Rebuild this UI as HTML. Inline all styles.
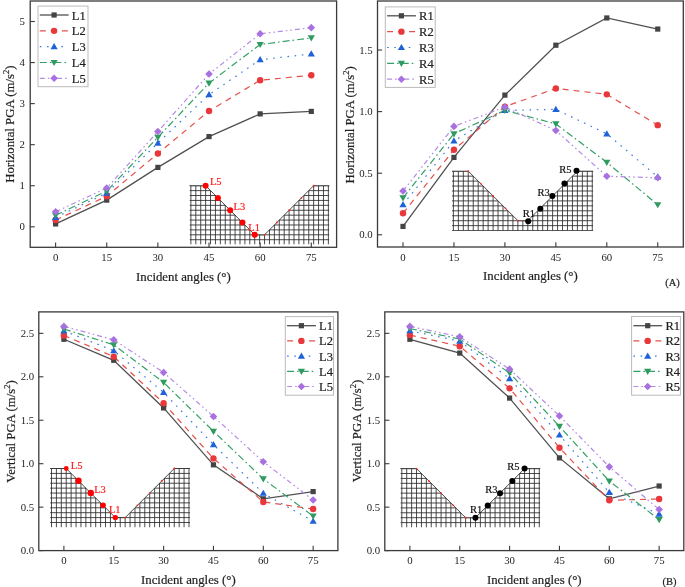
<!DOCTYPE html>
<html><head><meta charset="utf-8"><style>
html,body{margin:0;padding:0;background:#fff;}
svg{display:block;font-family:"Liberation Serif", serif;will-change:transform;}
</style></head><body>
<svg width="685" height="587" viewBox="0 0 685 587">

<rect x="30.20" y="1.00" width="306.40" height="246.30" fill="none" stroke="#3a3a3a" stroke-width="1.3"/>
<path d="M55.60,247.30V242.50" stroke="#3a3a3a" stroke-width="1.1"/>
<text x="55.60" y="260.90" font-size="10.8" text-anchor="middle" fill="#1e1e1e" stroke="#1e1e1e" stroke-width="0">0</text>
<path d="M106.74,247.30V242.50" stroke="#3a3a3a" stroke-width="1.1"/>
<text x="106.74" y="260.90" font-size="10.8" text-anchor="middle" fill="#1e1e1e" stroke="#1e1e1e" stroke-width="0">15</text>
<path d="M157.88,247.30V242.50" stroke="#3a3a3a" stroke-width="1.1"/>
<text x="157.88" y="260.90" font-size="10.8" text-anchor="middle" fill="#1e1e1e" stroke="#1e1e1e" stroke-width="0">30</text>
<path d="M209.02,247.30V242.50" stroke="#3a3a3a" stroke-width="1.1"/>
<text x="209.02" y="260.90" font-size="10.8" text-anchor="middle" fill="#1e1e1e" stroke="#1e1e1e" stroke-width="0">45</text>
<path d="M260.16,247.30V242.50" stroke="#3a3a3a" stroke-width="1.1"/>
<text x="260.16" y="260.90" font-size="10.8" text-anchor="middle" fill="#1e1e1e" stroke="#1e1e1e" stroke-width="0">60</text>
<path d="M311.30,247.30V242.50" stroke="#3a3a3a" stroke-width="1.1"/>
<text x="311.30" y="260.90" font-size="10.8" text-anchor="middle" fill="#1e1e1e" stroke="#1e1e1e" stroke-width="0">75</text>
<path d="M30.20,226.80H34.80" stroke="#3a3a3a" stroke-width="1.1"/>
<text x="24.90" y="230.30" font-size="10.8" text-anchor="end" fill="#1e1e1e" stroke="#1e1e1e" stroke-width="0">0</text>
<path d="M30.20,185.74H34.80" stroke="#3a3a3a" stroke-width="1.1"/>
<text x="24.90" y="189.24" font-size="10.8" text-anchor="end" fill="#1e1e1e" stroke="#1e1e1e" stroke-width="0">1</text>
<path d="M30.20,144.68H34.80" stroke="#3a3a3a" stroke-width="1.1"/>
<text x="24.90" y="148.18" font-size="10.8" text-anchor="end" fill="#1e1e1e" stroke="#1e1e1e" stroke-width="0">2</text>
<path d="M30.20,103.62H34.80" stroke="#3a3a3a" stroke-width="1.1"/>
<text x="24.90" y="107.12" font-size="10.8" text-anchor="end" fill="#1e1e1e" stroke="#1e1e1e" stroke-width="0">3</text>
<path d="M30.20,62.56H34.80" stroke="#3a3a3a" stroke-width="1.1"/>
<text x="24.90" y="66.06" font-size="10.8" text-anchor="end" fill="#1e1e1e" stroke="#1e1e1e" stroke-width="0">4</text>
<path d="M30.20,21.50H34.80" stroke="#3a3a3a" stroke-width="1.1"/>
<text x="24.90" y="25.00" font-size="10.8" text-anchor="end" fill="#1e1e1e" stroke="#1e1e1e" stroke-width="0">5</text>
<text x="183.40" y="280.70" font-size="12.8" text-anchor="middle" fill="#1e1e1e" stroke="#1e1e1e" stroke-width="0.2">Incident angles (°)</text>
<text transform="translate(14.00,124.20) rotate(-90)" font-size="12.8" text-anchor="middle" fill="#1e1e1e" stroke="#1e1e1e" stroke-width="0.2">Horizontal PGA (m/s<tspan font-size="8.5" dy="-5">2</tspan><tspan dy="5">)</tspan></text>
<clipPath id="clip190_185"><polygon points="189.50,185.70 205.63,185.70 254.73,234.80 264.55,234.80 313.65,185.70 329.38,185.70 329.38,244.62 189.50,244.62"/></clipPath>
<g clip-path="url(#clip190_185)"><path d="M190.90,185.70V244.62M195.81,185.70V244.62M200.72,185.70V244.62M205.63,185.70V244.62M210.54,185.70V244.62M215.45,185.70V244.62M220.36,185.70V244.62M225.27,185.70V244.62M230.18,185.70V244.62M235.09,185.70V244.62M240.00,185.70V244.62M244.91,185.70V244.62M249.82,185.70V244.62M254.73,185.70V244.62M259.64,185.70V244.62M264.55,185.70V244.62M269.46,185.70V244.62M274.37,185.70V244.62M279.28,185.70V244.62M284.19,185.70V244.62M289.10,185.70V244.62M294.01,185.70V244.62M298.92,185.70V244.62M303.83,185.70V244.62M308.74,185.70V244.62M313.65,185.70V244.62M318.56,185.70V244.62M323.47,185.70V244.62M328.38,185.70V244.62M189.50,185.70H329.38M189.50,190.61H329.38M189.50,195.52H329.38M189.50,200.43H329.38M189.50,205.34H329.38M189.50,210.25H329.38M189.50,215.16H329.38M189.50,220.07H329.38M189.50,224.98H329.38M189.50,229.89H329.38M189.50,234.80H329.38M189.50,239.71H329.38" stroke="#2a2a2a" stroke-width="0.85" fill="none"/></g>
<path d="M189.50,185.70H205.63L254.73,234.80H264.55L313.65,185.70H329.38" stroke="#2a2a2a" stroke-width="0.85" fill="none"/>
<circle cx="264.55" cy="234.80" r="0.9" fill="#ff2020"/>
<circle cx="276.82" cy="222.52" r="0.9" fill="#ff2020"/>
<circle cx="289.10" cy="210.25" r="0.9" fill="#ff2020"/>
<circle cx="301.38" cy="197.97" r="0.9" fill="#ff2020"/>
<circle cx="313.65" cy="185.70" r="0.9" fill="#ff2020"/>
<circle cx="205.63" cy="185.70" r="3.00" fill="#ff0000"/>
<circle cx="217.91" cy="197.97" r="3.00" fill="#ff0000"/>
<circle cx="230.18" cy="210.25" r="3.00" fill="#ff0000"/>
<circle cx="242.46" cy="222.52" r="3.00" fill="#ff0000"/>
<circle cx="254.73" cy="234.80" r="3.00" fill="#ff0000"/>
<path d="M55.60,223.93L106.74,200.11L157.88,167.39L209.02,136.59L260.16,113.89L311.30,111.42" fill="none" stroke="#505050" stroke-width="1.3"/>
<path d="M55.60,220.03L106.74,196.21L157.88,153.47L209.02,111.01L260.16,80.22L311.30,75.29" fill="none" stroke="#e4504a" stroke-width="1.2" stroke-dasharray="6,5"/>
<path d="M55.60,217.36L106.74,193.13L157.88,143.04L209.02,94.59L260.16,59.69L311.30,53.94" fill="none" stroke="#3a7ae0" stroke-width="1.2" stroke-dasharray="1.6,5.6"/>
<path d="M55.60,215.30L106.74,191.08L157.88,137.29L209.02,83.09L260.16,44.49L311.30,37.92" fill="none" stroke="#34a067" stroke-width="1.2" stroke-dasharray="7,3,1.6,3"/>
<path d="M55.60,211.81L106.74,188.00L157.88,131.54L209.02,74.06L260.16,33.82L311.30,27.66" fill="none" stroke="#b48ae6" stroke-width="1.2" stroke-dasharray="5,3,1.6,3,1.6,3"/>
<rect x="53.00" y="221.33" width="5.20" height="5.20" fill="#444444"/>
<rect x="104.14" y="197.51" width="5.20" height="5.20" fill="#444444"/>
<rect x="155.28" y="164.79" width="5.20" height="5.20" fill="#444444"/>
<rect x="206.42" y="133.99" width="5.20" height="5.20" fill="#444444"/>
<rect x="257.56" y="111.29" width="5.20" height="5.20" fill="#444444"/>
<rect x="308.70" y="108.82" width="5.20" height="5.20" fill="#444444"/>
<circle cx="55.60" cy="220.03" r="3.20" fill="#e8383b"/>
<circle cx="106.74" cy="196.21" r="3.20" fill="#e8383b"/>
<circle cx="157.88" cy="153.47" r="3.20" fill="#e8383b"/>
<circle cx="209.02" cy="111.01" r="3.20" fill="#e8383b"/>
<circle cx="260.16" cy="80.22" r="3.20" fill="#e8383b"/>
<circle cx="311.30" cy="75.29" r="3.20" fill="#e8383b"/>
<path d="M55.60,213.76L59.20,219.96L52.00,219.96Z" fill="#1f62d8"/>
<path d="M106.74,189.53L110.34,195.73L103.14,195.73Z" fill="#1f62d8"/>
<path d="M157.88,139.44L161.48,145.64L154.28,145.64Z" fill="#1f62d8"/>
<path d="M209.02,90.99L212.62,97.19L205.42,97.19Z" fill="#1f62d8"/>
<path d="M260.16,56.09L263.76,62.29L256.56,62.29Z" fill="#1f62d8"/>
<path d="M311.30,50.34L314.90,56.54L307.70,56.54Z" fill="#1f62d8"/>
<path d="M55.60,218.90L59.20,212.70L52.00,212.70Z" fill="#2e9a5e"/>
<path d="M106.74,194.68L110.34,188.48L103.14,188.48Z" fill="#2e9a5e"/>
<path d="M157.88,140.89L161.48,134.69L154.28,134.69Z" fill="#2e9a5e"/>
<path d="M209.02,86.69L212.62,80.49L205.42,80.49Z" fill="#2e9a5e"/>
<path d="M260.16,48.09L263.76,41.89L256.56,41.89Z" fill="#2e9a5e"/>
<path d="M311.30,41.52L314.90,35.32L307.70,35.32Z" fill="#2e9a5e"/>
<path d="M55.60,208.01L59.40,211.81L55.60,215.61L51.80,211.81Z" fill="#a970e0"/>
<path d="M106.74,184.20L110.54,188.00L106.74,191.80L102.94,188.00Z" fill="#a970e0"/>
<path d="M157.88,127.74L161.68,131.54L157.88,135.34L154.08,131.54Z" fill="#a970e0"/>
<path d="M209.02,70.26L212.82,74.06L209.02,77.86L205.22,74.06Z" fill="#a970e0"/>
<path d="M260.16,30.02L263.96,33.82L260.16,37.62L256.36,33.82Z" fill="#a970e0"/>
<path d="M311.30,23.86L315.10,27.66L311.30,31.46L307.50,27.66Z" fill="#a970e0"/>
<rect x="38.00" y="6.10" width="50.00" height="80.60" fill="#fff" stroke="#bbb" stroke-width="1"/>
<path d="M39.80,15.00L68.60,15.00" fill="none" stroke="#505050" stroke-width="1.3"/>
<rect x="51.50" y="12.40" width="5.20" height="5.20" fill="#444444"/>
<text x="71.80" y="19.50" font-size="12.5" text-anchor="start" fill="#1e1e1e" stroke="#1e1e1e" stroke-width="0.2">L1</text>
<path d="M39.80,30.83L68.60,30.83" fill="none" stroke="#e4504a" stroke-width="1.2" stroke-dasharray="6,5"/>
<circle cx="54.10" cy="30.83" r="3.20" fill="#e8383b"/>
<text x="71.80" y="35.33" font-size="12.5" text-anchor="start" fill="#1e1e1e" stroke="#1e1e1e" stroke-width="0.2">L2</text>
<path d="M39.80,46.66L68.60,46.66" fill="none" stroke="#3a7ae0" stroke-width="1.2" stroke-dasharray="1.6,5.6"/>
<path d="M54.10,43.06L57.70,49.26L50.50,49.26Z" fill="#1f62d8"/>
<text x="71.80" y="51.16" font-size="12.5" text-anchor="start" fill="#1e1e1e" stroke="#1e1e1e" stroke-width="0.2">L3</text>
<path d="M39.80,62.49L68.60,62.49" fill="none" stroke="#34a067" stroke-width="1.2" stroke-dasharray="7,3,1.6,3"/>
<path d="M54.10,66.09L57.70,59.89L50.50,59.89Z" fill="#2e9a5e"/>
<text x="71.80" y="66.99" font-size="12.5" text-anchor="start" fill="#1e1e1e" stroke="#1e1e1e" stroke-width="0.2">L4</text>
<path d="M39.80,78.32L68.60,78.32" fill="none" stroke="#b48ae6" stroke-width="1.2" stroke-dasharray="5,3,1.6,3,1.6,3"/>
<path d="M54.10,74.52L57.90,78.32L54.10,82.12L50.30,78.32Z" fill="#a970e0"/>
<text x="71.80" y="82.82" font-size="12.5" text-anchor="start" fill="#1e1e1e" stroke="#1e1e1e" stroke-width="0.2">L5</text>
<text x="209.93" y="184.70" font-size="10.5" text-anchor="start" fill="#ff1a1a" stroke="#ff1a1a" stroke-width="0.2">L5</text>
<text x="233.58" y="210.25" font-size="10.5" text-anchor="start" fill="#ff1a1a" stroke="#ff1a1a" stroke-width="0.2">L3</text>
<text x="248.33" y="230.60" font-size="10.5" text-anchor="start" fill="#ff1a1a" stroke="#ff1a1a" stroke-width="0.2">L1</text>
<rect x="377.50" y="1.00" width="305.80" height="246.00" fill="none" stroke="#3a3a3a" stroke-width="1.3"/>
<path d="M403.00,247.00V242.20" stroke="#3a3a3a" stroke-width="1.1"/>
<text x="403.00" y="260.60" font-size="10.8" text-anchor="middle" fill="#1e1e1e" stroke="#1e1e1e" stroke-width="0">0</text>
<path d="M453.95,247.00V242.20" stroke="#3a3a3a" stroke-width="1.1"/>
<text x="453.95" y="260.60" font-size="10.8" text-anchor="middle" fill="#1e1e1e" stroke="#1e1e1e" stroke-width="0">15</text>
<path d="M504.90,247.00V242.20" stroke="#3a3a3a" stroke-width="1.1"/>
<text x="504.90" y="260.60" font-size="10.8" text-anchor="middle" fill="#1e1e1e" stroke="#1e1e1e" stroke-width="0">30</text>
<path d="M555.85,247.00V242.20" stroke="#3a3a3a" stroke-width="1.1"/>
<text x="555.85" y="260.60" font-size="10.8" text-anchor="middle" fill="#1e1e1e" stroke="#1e1e1e" stroke-width="0">45</text>
<path d="M606.80,247.00V242.20" stroke="#3a3a3a" stroke-width="1.1"/>
<text x="606.80" y="260.60" font-size="10.8" text-anchor="middle" fill="#1e1e1e" stroke="#1e1e1e" stroke-width="0">60</text>
<path d="M657.75,247.00V242.20" stroke="#3a3a3a" stroke-width="1.1"/>
<text x="657.75" y="260.60" font-size="10.8" text-anchor="middle" fill="#1e1e1e" stroke="#1e1e1e" stroke-width="0">75</text>
<path d="M377.50,234.80H382.10" stroke="#3a3a3a" stroke-width="1.1"/>
<text x="372.70" y="238.30" font-size="10.8" text-anchor="end" fill="#1e1e1e" stroke="#1e1e1e" stroke-width="0">0.0</text>
<path d="M377.50,173.20H382.10" stroke="#3a3a3a" stroke-width="1.1"/>
<text x="372.70" y="176.70" font-size="10.8" text-anchor="end" fill="#1e1e1e" stroke="#1e1e1e" stroke-width="0">0.5</text>
<path d="M377.50,111.60H382.10" stroke="#3a3a3a" stroke-width="1.1"/>
<text x="372.70" y="115.10" font-size="10.8" text-anchor="end" fill="#1e1e1e" stroke="#1e1e1e" stroke-width="0">1.0</text>
<path d="M377.50,50.00H382.10" stroke="#3a3a3a" stroke-width="1.1"/>
<text x="372.70" y="53.50" font-size="10.8" text-anchor="end" fill="#1e1e1e" stroke="#1e1e1e" stroke-width="0">1.5</text>
<text x="530.40" y="280.40" font-size="12.8" text-anchor="middle" fill="#1e1e1e" stroke="#1e1e1e" stroke-width="0.2">Incident angles (°)</text>
<text transform="translate(354.00,124.80) rotate(-90)" font-size="12.8" text-anchor="middle" fill="#1e1e1e" stroke="#1e1e1e" stroke-width="0.2">Horizontal PGA (m/s<tspan font-size="8.5" dy="-5">2</tspan><tspan dy="5">)</tspan></text>
<clipPath id="clip453_171"><polygon points="452.00,171.20 468.28,171.20 517.88,220.70 527.80,220.70 577.40,171.20 593.28,171.20 593.28,231.10 452.00,231.10"/></clipPath>
<g clip-path="url(#clip453_171)"><path d="M453.40,171.20V230.60M458.36,171.20V230.60M463.32,171.20V230.60M468.28,171.20V230.60M473.24,171.20V230.60M478.20,171.20V230.60M483.16,171.20V230.60M488.12,171.20V230.60M493.08,171.20V230.60M498.04,171.20V230.60M503.00,171.20V230.60M507.96,171.20V230.60M512.92,171.20V230.60M517.88,171.20V230.60M522.84,171.20V230.60M527.80,171.20V230.60M532.76,171.20V230.60M537.72,171.20V230.60M542.68,171.20V230.60M547.64,171.20V230.60M552.60,171.20V230.60M557.56,171.20V230.60M562.52,171.20V230.60M567.48,171.20V230.60M572.44,171.20V230.60M577.40,171.20V230.60M582.36,171.20V230.60M587.32,171.20V230.60M592.28,171.20V230.60M452.00,171.20H593.28M452.00,176.15H593.28M452.00,181.10H593.28M452.00,186.05H593.28M452.00,191.00H593.28M452.00,195.95H593.28M452.00,200.90H593.28M452.00,205.85H593.28M452.00,210.80H593.28M452.00,215.75H593.28M452.00,220.70H593.28M452.00,225.65H593.28M452.00,230.60H593.28" stroke="#2a2a2a" stroke-width="0.85" fill="none"/></g>
<path d="M452.00,171.20H468.28L517.88,220.70H527.80L577.40,171.20H593.28" stroke="#2a2a2a" stroke-width="0.85" fill="none"/>
<circle cx="468.28" cy="171.20" r="0.9" fill="#ff2020"/>
<circle cx="480.68" cy="183.57" r="0.9" fill="#ff2020"/>
<circle cx="493.08" cy="195.95" r="0.9" fill="#ff2020"/>
<circle cx="505.48" cy="208.32" r="0.9" fill="#ff2020"/>
<circle cx="517.88" cy="220.70" r="0.9" fill="#ff2020"/>
<circle cx="528.20" cy="221.30" r="3.00" fill="#000000"/>
<circle cx="540.28" cy="208.68" r="3.00" fill="#000000"/>
<circle cx="552.35" cy="196.05" r="3.00" fill="#000000"/>
<circle cx="564.42" cy="183.43" r="3.00" fill="#000000"/>
<circle cx="576.50" cy="170.80" r="3.00" fill="#000000"/>
<path d="M403.00,226.42L453.95,157.43L504.90,95.09L555.85,45.20L606.80,17.97L657.75,29.06" fill="none" stroke="#505050" stroke-width="1.3"/>
<path d="M403.00,213.24L453.95,149.79L504.90,106.67L555.85,88.44L606.80,94.35L657.75,125.15" fill="none" stroke="#e4504a" stroke-width="1.2" stroke-dasharray="6,5"/>
<path d="M403.00,204.62L453.95,140.92L504.90,110.37L555.85,109.38L606.80,133.78L657.75,176.90" fill="none" stroke="#3a7ae0" stroke-width="1.2" stroke-dasharray="1.6,5.6"/>
<path d="M403.00,197.84L453.95,133.78L504.90,110.37L555.85,123.92L606.80,162.36L657.75,204.74" fill="none" stroke="#34a067" stroke-width="1.2" stroke-dasharray="7,3,1.6,3"/>
<path d="M403.00,191.06L453.95,126.38L504.90,107.04L555.85,130.57L606.80,176.28L657.75,177.76" fill="none" stroke="#b48ae6" stroke-width="1.2" stroke-dasharray="5,3,1.6,3,1.6,3"/>
<rect x="400.40" y="223.82" width="5.20" height="5.20" fill="#444444"/>
<rect x="451.35" y="154.83" width="5.20" height="5.20" fill="#444444"/>
<rect x="502.30" y="92.49" width="5.20" height="5.20" fill="#444444"/>
<rect x="553.25" y="42.60" width="5.20" height="5.20" fill="#444444"/>
<rect x="604.20" y="15.37" width="5.20" height="5.20" fill="#444444"/>
<rect x="655.15" y="26.46" width="5.20" height="5.20" fill="#444444"/>
<circle cx="403.00" cy="213.24" r="3.20" fill="#e8383b"/>
<circle cx="453.95" cy="149.79" r="3.20" fill="#e8383b"/>
<circle cx="504.90" cy="106.67" r="3.20" fill="#e8383b"/>
<circle cx="555.85" cy="88.44" r="3.20" fill="#e8383b"/>
<circle cx="606.80" cy="94.35" r="3.20" fill="#e8383b"/>
<circle cx="657.75" cy="125.15" r="3.20" fill="#e8383b"/>
<path d="M403.00,201.02L406.60,207.22L399.40,207.22Z" fill="#1f62d8"/>
<path d="M453.95,137.32L457.55,143.52L450.35,143.52Z" fill="#1f62d8"/>
<path d="M504.90,106.77L508.50,112.97L501.30,112.97Z" fill="#1f62d8"/>
<path d="M555.85,105.78L559.45,111.98L552.25,111.98Z" fill="#1f62d8"/>
<path d="M606.80,130.18L610.40,136.38L603.20,136.38Z" fill="#1f62d8"/>
<path d="M657.75,173.30L661.35,179.50L654.15,179.50Z" fill="#1f62d8"/>
<path d="M403.00,201.44L406.60,195.24L399.40,195.24Z" fill="#2e9a5e"/>
<path d="M453.95,137.38L457.55,131.18L450.35,131.18Z" fill="#2e9a5e"/>
<path d="M504.90,113.97L508.50,107.77L501.30,107.77Z" fill="#2e9a5e"/>
<path d="M555.85,127.52L559.45,121.32L552.25,121.32Z" fill="#2e9a5e"/>
<path d="M606.80,165.96L610.40,159.76L603.20,159.76Z" fill="#2e9a5e"/>
<path d="M657.75,208.34L661.35,202.14L654.15,202.14Z" fill="#2e9a5e"/>
<path d="M403.00,187.26L406.80,191.06L403.00,194.86L399.20,191.06Z" fill="#a970e0"/>
<path d="M453.95,122.58L457.75,126.38L453.95,130.18L450.15,126.38Z" fill="#a970e0"/>
<path d="M504.90,103.24L508.70,107.04L504.90,110.84L501.10,107.04Z" fill="#a970e0"/>
<path d="M555.85,126.77L559.65,130.57L555.85,134.37L552.05,130.57Z" fill="#a970e0"/>
<path d="M606.80,172.48L610.60,176.28L606.80,180.08L603.00,176.28Z" fill="#a970e0"/>
<path d="M657.75,173.96L661.55,177.76L657.75,181.56L653.95,177.76Z" fill="#a970e0"/>
<rect x="385.30" y="6.90" width="49.90" height="80.50" fill="#fff" stroke="#bbb" stroke-width="1"/>
<path d="M387.10,15.80L415.90,15.80" fill="none" stroke="#505050" stroke-width="1.3"/>
<rect x="398.80" y="13.20" width="5.20" height="5.20" fill="#444444"/>
<text x="419.10" y="20.30" font-size="12.5" text-anchor="start" fill="#1e1e1e" stroke="#1e1e1e" stroke-width="0.2">R1</text>
<path d="M387.10,31.65L415.90,31.65" fill="none" stroke="#e4504a" stroke-width="1.2" stroke-dasharray="6,5"/>
<circle cx="401.40" cy="31.65" r="3.20" fill="#e8383b"/>
<text x="419.10" y="36.15" font-size="12.5" text-anchor="start" fill="#1e1e1e" stroke="#1e1e1e" stroke-width="0.2">R2</text>
<path d="M387.10,47.50L415.90,47.50" fill="none" stroke="#3a7ae0" stroke-width="1.2" stroke-dasharray="1.6,5.6"/>
<path d="M401.40,43.90L405.00,50.10L397.80,50.10Z" fill="#1f62d8"/>
<text x="419.10" y="52.00" font-size="12.5" text-anchor="start" fill="#1e1e1e" stroke="#1e1e1e" stroke-width="0.2">R3</text>
<path d="M387.10,63.35L415.90,63.35" fill="none" stroke="#34a067" stroke-width="1.2" stroke-dasharray="7,3,1.6,3"/>
<path d="M401.40,66.95L405.00,60.75L397.80,60.75Z" fill="#2e9a5e"/>
<text x="419.10" y="67.85" font-size="12.5" text-anchor="start" fill="#1e1e1e" stroke="#1e1e1e" stroke-width="0.2">R4</text>
<path d="M387.10,79.20L415.90,79.20" fill="none" stroke="#b48ae6" stroke-width="1.2" stroke-dasharray="5,3,1.6,3,1.6,3"/>
<path d="M401.40,75.40L405.20,79.20L401.40,83.00L397.60,79.20Z" fill="#a970e0"/>
<text x="419.10" y="83.70" font-size="12.5" text-anchor="start" fill="#1e1e1e" stroke="#1e1e1e" stroke-width="0.2">R5</text>
<text x="529.00" y="216.80" font-size="10.5" text-anchor="middle" fill="#111" stroke="#111" stroke-width="0.2">R1</text>
<text x="549.85" y="195.65" font-size="10.5" text-anchor="end" fill="#111" stroke="#111" stroke-width="0.2">R3</text>
<text x="571.50" y="172.60" font-size="10.5" text-anchor="end" fill="#111" stroke="#111" stroke-width="0.2">R5</text>
<rect x="38.80" y="311.90" width="299.10" height="238.70" fill="none" stroke="#3a3a3a" stroke-width="1.3"/>
<path d="M63.90,550.60V545.80" stroke="#3a3a3a" stroke-width="1.1"/>
<text x="63.90" y="564.20" font-size="10.8" text-anchor="middle" fill="#1e1e1e" stroke="#1e1e1e" stroke-width="0">0</text>
<path d="M113.75,550.60V545.80" stroke="#3a3a3a" stroke-width="1.1"/>
<text x="113.75" y="564.20" font-size="10.8" text-anchor="middle" fill="#1e1e1e" stroke="#1e1e1e" stroke-width="0">15</text>
<path d="M163.60,550.60V545.80" stroke="#3a3a3a" stroke-width="1.1"/>
<text x="163.60" y="564.20" font-size="10.8" text-anchor="middle" fill="#1e1e1e" stroke="#1e1e1e" stroke-width="0">30</text>
<path d="M213.45,550.60V545.80" stroke="#3a3a3a" stroke-width="1.1"/>
<text x="213.45" y="564.20" font-size="10.8" text-anchor="middle" fill="#1e1e1e" stroke="#1e1e1e" stroke-width="0">45</text>
<path d="M263.30,550.60V545.80" stroke="#3a3a3a" stroke-width="1.1"/>
<text x="263.30" y="564.20" font-size="10.8" text-anchor="middle" fill="#1e1e1e" stroke="#1e1e1e" stroke-width="0">60</text>
<path d="M313.15,550.60V545.80" stroke="#3a3a3a" stroke-width="1.1"/>
<text x="313.15" y="564.20" font-size="10.8" text-anchor="middle" fill="#1e1e1e" stroke="#1e1e1e" stroke-width="0">75</text>
<path d="M38.80,550.60H43.40" stroke="#3a3a3a" stroke-width="1.1"/>
<text x="34.20" y="554.10" font-size="10.8" text-anchor="end" fill="#1e1e1e" stroke="#1e1e1e" stroke-width="0">0.0</text>
<path d="M38.80,507.15H43.40" stroke="#3a3a3a" stroke-width="1.1"/>
<text x="34.20" y="510.65" font-size="10.8" text-anchor="end" fill="#1e1e1e" stroke="#1e1e1e" stroke-width="0">0.5</text>
<path d="M38.80,463.70H43.40" stroke="#3a3a3a" stroke-width="1.1"/>
<text x="34.20" y="467.20" font-size="10.8" text-anchor="end" fill="#1e1e1e" stroke="#1e1e1e" stroke-width="0">1.0</text>
<path d="M38.80,420.25H43.40" stroke="#3a3a3a" stroke-width="1.1"/>
<text x="34.20" y="423.75" font-size="10.8" text-anchor="end" fill="#1e1e1e" stroke="#1e1e1e" stroke-width="0">1.5</text>
<path d="M38.80,376.80H43.40" stroke="#3a3a3a" stroke-width="1.1"/>
<text x="34.20" y="380.30" font-size="10.8" text-anchor="end" fill="#1e1e1e" stroke="#1e1e1e" stroke-width="0">2.0</text>
<path d="M38.80,333.35H43.40" stroke="#3a3a3a" stroke-width="1.1"/>
<text x="34.20" y="336.85" font-size="10.8" text-anchor="end" fill="#1e1e1e" stroke="#1e1e1e" stroke-width="0">2.5</text>
<text x="188.35" y="584.00" font-size="12.8" text-anchor="middle" fill="#1e1e1e" stroke="#1e1e1e" stroke-width="0.2">Incident angles (°)</text>
<text transform="translate(15.00,431.50) rotate(-90)" font-size="12.8" text-anchor="middle" fill="#1e1e1e" stroke="#1e1e1e" stroke-width="0.2">Vertical PGA (m/s<tspan font-size="8.5" dy="-5">2</tspan><tspan dy="5">)</tspan></text>
<clipPath id="clip51_468"><polygon points="50.10,468.50 66.23,468.50 115.33,517.60 125.15,517.60 174.25,468.50 189.98,468.50 189.98,527.42 50.10,527.42"/></clipPath>
<g clip-path="url(#clip51_468)"><path d="M51.50,468.50V527.42M56.41,468.50V527.42M61.32,468.50V527.42M66.23,468.50V527.42M71.14,468.50V527.42M76.05,468.50V527.42M80.96,468.50V527.42M85.87,468.50V527.42M90.78,468.50V527.42M95.69,468.50V527.42M100.60,468.50V527.42M105.51,468.50V527.42M110.42,468.50V527.42M115.33,468.50V527.42M120.24,468.50V527.42M125.15,468.50V527.42M130.06,468.50V527.42M134.97,468.50V527.42M139.88,468.50V527.42M144.79,468.50V527.42M149.70,468.50V527.42M154.61,468.50V527.42M159.52,468.50V527.42M164.43,468.50V527.42M169.34,468.50V527.42M174.25,468.50V527.42M179.16,468.50V527.42M184.07,468.50V527.42M188.98,468.50V527.42M50.10,468.50H189.98M50.10,473.41H189.98M50.10,478.32H189.98M50.10,483.23H189.98M50.10,488.14H189.98M50.10,493.05H189.98M50.10,497.96H189.98M50.10,502.87H189.98M50.10,507.78H189.98M50.10,512.69H189.98M50.10,517.60H189.98M50.10,522.51H189.98" stroke="#2a2a2a" stroke-width="0.85" fill="none"/></g>
<path d="M50.10,468.50H66.23L115.33,517.60H125.15L174.25,468.50H189.98" stroke="#2a2a2a" stroke-width="0.85" fill="none"/>
<circle cx="125.15" cy="517.60" r="0.9" fill="#ff2020"/>
<circle cx="137.43" cy="505.33" r="0.9" fill="#ff2020"/>
<circle cx="149.70" cy="493.05" r="0.9" fill="#ff2020"/>
<circle cx="161.97" cy="480.77" r="0.9" fill="#ff2020"/>
<circle cx="174.25" cy="468.50" r="0.9" fill="#ff2020"/>
<circle cx="66.23" cy="468.50" r="2.40" fill="#ff0000"/>
<circle cx="78.50" cy="480.77" r="3.20" fill="#ff0000"/>
<circle cx="90.78" cy="493.05" r="3.20" fill="#ff0000"/>
<circle cx="103.06" cy="505.33" r="2.80" fill="#ff0000"/>
<circle cx="115.33" cy="517.60" r="2.70" fill="#ff0000"/>
<path d="M63.90,339.26L113.75,360.29L163.60,407.91L213.45,464.83L263.30,498.81L313.15,491.59" fill="none" stroke="#505050" stroke-width="1.3"/>
<path d="M63.90,335.44L113.75,356.64L163.60,403.13L213.45,458.40L263.30,501.94L313.15,508.97" fill="none" stroke="#e4504a" stroke-width="1.2" stroke-dasharray="6,5"/>
<path d="M63.90,330.83L113.75,350.73L163.60,392.44L213.45,444.58L263.30,493.25L313.15,521.23" fill="none" stroke="#3a7ae0" stroke-width="1.2" stroke-dasharray="1.6,5.6"/>
<path d="M63.90,329.00L113.75,344.82L163.60,382.45L213.45,431.29L263.30,478.82L313.15,516.10" fill="none" stroke="#34a067" stroke-width="1.2" stroke-dasharray="7,3,1.6,3"/>
<path d="M63.90,326.40L113.75,339.78L163.60,372.46L213.45,416.43L263.30,461.70L313.15,500.02" fill="none" stroke="#b48ae6" stroke-width="1.2" stroke-dasharray="5,3,1.6,3,1.6,3"/>
<rect x="61.30" y="336.66" width="5.20" height="5.20" fill="#444444"/>
<rect x="111.15" y="357.69" width="5.20" height="5.20" fill="#444444"/>
<rect x="161.00" y="405.31" width="5.20" height="5.20" fill="#444444"/>
<rect x="210.85" y="462.23" width="5.20" height="5.20" fill="#444444"/>
<rect x="260.70" y="496.21" width="5.20" height="5.20" fill="#444444"/>
<rect x="310.55" y="488.99" width="5.20" height="5.20" fill="#444444"/>
<circle cx="63.90" cy="335.44" r="3.20" fill="#e8383b"/>
<circle cx="113.75" cy="356.64" r="3.20" fill="#e8383b"/>
<circle cx="163.60" cy="403.13" r="3.20" fill="#e8383b"/>
<circle cx="213.45" cy="458.40" r="3.20" fill="#e8383b"/>
<circle cx="263.30" cy="501.94" r="3.20" fill="#e8383b"/>
<circle cx="313.15" cy="508.97" r="3.20" fill="#e8383b"/>
<path d="M63.90,327.23L67.50,333.43L60.30,333.43Z" fill="#1f62d8"/>
<path d="M113.75,347.13L117.35,353.33L110.15,353.33Z" fill="#1f62d8"/>
<path d="M163.60,388.84L167.20,395.04L160.00,395.04Z" fill="#1f62d8"/>
<path d="M213.45,440.98L217.05,447.18L209.85,447.18Z" fill="#1f62d8"/>
<path d="M263.30,489.65L266.90,495.85L259.70,495.85Z" fill="#1f62d8"/>
<path d="M313.15,517.63L316.75,523.83L309.55,523.83Z" fill="#1f62d8"/>
<path d="M63.90,332.61L67.50,326.40L60.30,326.40Z" fill="#2e9a5e"/>
<path d="M113.75,348.42L117.35,342.22L110.15,342.22Z" fill="#2e9a5e"/>
<path d="M163.60,386.05L167.20,379.85L160.00,379.85Z" fill="#2e9a5e"/>
<path d="M213.45,434.89L217.05,428.69L209.85,428.69Z" fill="#2e9a5e"/>
<path d="M263.30,482.42L266.90,476.22L259.70,476.22Z" fill="#2e9a5e"/>
<path d="M313.15,519.70L316.75,513.50L309.55,513.50Z" fill="#2e9a5e"/>
<path d="M63.90,322.60L67.70,326.40L63.90,330.20L60.10,326.40Z" fill="#a970e0"/>
<path d="M113.75,335.98L117.55,339.78L113.75,343.58L109.95,339.78Z" fill="#a970e0"/>
<path d="M163.60,368.66L167.40,372.46L163.60,376.26L159.80,372.46Z" fill="#a970e0"/>
<path d="M213.45,412.63L217.25,416.43L213.45,420.23L209.65,416.43Z" fill="#a970e0"/>
<path d="M263.30,457.90L267.10,461.70L263.30,465.50L259.50,461.70Z" fill="#a970e0"/>
<path d="M313.15,496.22L316.95,500.02L313.15,503.82L309.35,500.02Z" fill="#a970e0"/>
<rect x="285.30" y="316.60" width="48.20" height="78.60" fill="#fff" stroke="#bbb" stroke-width="1"/>
<path d="M287.10,325.70L315.90,325.70" fill="none" stroke="#505050" stroke-width="1.3"/>
<rect x="298.80" y="323.10" width="5.20" height="5.20" fill="#444444"/>
<text x="319.10" y="330.20" font-size="12.5" text-anchor="start" fill="#1e1e1e" stroke="#1e1e1e" stroke-width="0.2">L1</text>
<path d="M287.10,340.90L315.90,340.90" fill="none" stroke="#e4504a" stroke-width="1.2" stroke-dasharray="6,5"/>
<circle cx="301.40" cy="340.90" r="3.20" fill="#e8383b"/>
<text x="319.10" y="345.40" font-size="12.5" text-anchor="start" fill="#1e1e1e" stroke="#1e1e1e" stroke-width="0.2">L2</text>
<path d="M287.10,356.10L315.90,356.10" fill="none" stroke="#3a7ae0" stroke-width="1.2" stroke-dasharray="1.6,5.6"/>
<path d="M301.40,352.50L305.00,358.70L297.80,358.70Z" fill="#1f62d8"/>
<text x="319.10" y="360.60" font-size="12.5" text-anchor="start" fill="#1e1e1e" stroke="#1e1e1e" stroke-width="0.2">L3</text>
<path d="M287.10,371.30L315.90,371.30" fill="none" stroke="#34a067" stroke-width="1.2" stroke-dasharray="7,3,1.6,3"/>
<path d="M301.40,374.90L305.00,368.70L297.80,368.70Z" fill="#2e9a5e"/>
<text x="319.10" y="375.80" font-size="12.5" text-anchor="start" fill="#1e1e1e" stroke="#1e1e1e" stroke-width="0.2">L4</text>
<path d="M287.10,386.50L315.90,386.50" fill="none" stroke="#b48ae6" stroke-width="1.2" stroke-dasharray="5,3,1.6,3,1.6,3"/>
<path d="M301.40,382.70L305.20,386.50L301.40,390.30L297.60,386.50Z" fill="#a970e0"/>
<text x="319.10" y="391.00" font-size="12.5" text-anchor="start" fill="#1e1e1e" stroke="#1e1e1e" stroke-width="0.2">L5</text>
<text x="70.73" y="469.00" font-size="10.5" text-anchor="start" fill="#ff1a1a" stroke="#ff1a1a" stroke-width="0.2">L5</text>
<text x="94.18" y="493.05" font-size="10.5" text-anchor="start" fill="#ff1a1a" stroke="#ff1a1a" stroke-width="0.2">L3</text>
<text x="108.93" y="513.40" font-size="10.5" text-anchor="start" fill="#ff1a1a" stroke="#ff1a1a" stroke-width="0.2">L1</text>
<rect x="384.80" y="311.90" width="299.00" height="238.70" fill="none" stroke="#3a3a3a" stroke-width="1.3"/>
<path d="M409.90,550.60V545.80" stroke="#3a3a3a" stroke-width="1.1"/>
<text x="409.90" y="564.20" font-size="10.8" text-anchor="middle" fill="#1e1e1e" stroke="#1e1e1e" stroke-width="0">0</text>
<path d="M459.75,550.60V545.80" stroke="#3a3a3a" stroke-width="1.1"/>
<text x="459.75" y="564.20" font-size="10.8" text-anchor="middle" fill="#1e1e1e" stroke="#1e1e1e" stroke-width="0">15</text>
<path d="M509.60,550.60V545.80" stroke="#3a3a3a" stroke-width="1.1"/>
<text x="509.60" y="564.20" font-size="10.8" text-anchor="middle" fill="#1e1e1e" stroke="#1e1e1e" stroke-width="0">30</text>
<path d="M559.45,550.60V545.80" stroke="#3a3a3a" stroke-width="1.1"/>
<text x="559.45" y="564.20" font-size="10.8" text-anchor="middle" fill="#1e1e1e" stroke="#1e1e1e" stroke-width="0">45</text>
<path d="M609.30,550.60V545.80" stroke="#3a3a3a" stroke-width="1.1"/>
<text x="609.30" y="564.20" font-size="10.8" text-anchor="middle" fill="#1e1e1e" stroke="#1e1e1e" stroke-width="0">60</text>
<path d="M659.15,550.60V545.80" stroke="#3a3a3a" stroke-width="1.1"/>
<text x="659.15" y="564.20" font-size="10.8" text-anchor="middle" fill="#1e1e1e" stroke="#1e1e1e" stroke-width="0">75</text>
<path d="M384.80,550.60H389.40" stroke="#3a3a3a" stroke-width="1.1"/>
<text x="380.20" y="554.10" font-size="10.8" text-anchor="end" fill="#1e1e1e" stroke="#1e1e1e" stroke-width="0">0.0</text>
<path d="M384.80,507.15H389.40" stroke="#3a3a3a" stroke-width="1.1"/>
<text x="380.20" y="510.65" font-size="10.8" text-anchor="end" fill="#1e1e1e" stroke="#1e1e1e" stroke-width="0">0.5</text>
<path d="M384.80,463.70H389.40" stroke="#3a3a3a" stroke-width="1.1"/>
<text x="380.20" y="467.20" font-size="10.8" text-anchor="end" fill="#1e1e1e" stroke="#1e1e1e" stroke-width="0">1.0</text>
<path d="M384.80,420.25H389.40" stroke="#3a3a3a" stroke-width="1.1"/>
<text x="380.20" y="423.75" font-size="10.8" text-anchor="end" fill="#1e1e1e" stroke="#1e1e1e" stroke-width="0">1.5</text>
<path d="M384.80,376.80H389.40" stroke="#3a3a3a" stroke-width="1.1"/>
<text x="380.20" y="380.30" font-size="10.8" text-anchor="end" fill="#1e1e1e" stroke="#1e1e1e" stroke-width="0">2.0</text>
<path d="M384.80,333.35H389.40" stroke="#3a3a3a" stroke-width="1.1"/>
<text x="380.20" y="336.85" font-size="10.8" text-anchor="end" fill="#1e1e1e" stroke="#1e1e1e" stroke-width="0">2.5</text>
<text x="534.30" y="584.00" font-size="12.8" text-anchor="middle" fill="#1e1e1e" stroke="#1e1e1e" stroke-width="0.2">Incident angles (°)</text>
<text transform="translate(361.20,431.00) rotate(-90)" font-size="12.8" text-anchor="middle" fill="#1e1e1e" stroke="#1e1e1e" stroke-width="0.2">Vertical PGA (m/s<tspan font-size="8.5" dy="-5">2</tspan><tspan dy="5">)</tspan></text>
<clipPath id="clip401_468"><polygon points="400.40,468.60 416.53,468.60 465.63,517.70 475.45,517.70 524.55,468.60 540.28,468.60 540.28,527.52 400.40,527.52"/></clipPath>
<g clip-path="url(#clip401_468)"><path d="M401.80,468.60V527.52M406.71,468.60V527.52M411.62,468.60V527.52M416.53,468.60V527.52M421.44,468.60V527.52M426.35,468.60V527.52M431.26,468.60V527.52M436.17,468.60V527.52M441.08,468.60V527.52M445.99,468.60V527.52M450.90,468.60V527.52M455.81,468.60V527.52M460.72,468.60V527.52M465.63,468.60V527.52M470.54,468.60V527.52M475.45,468.60V527.52M480.36,468.60V527.52M485.27,468.60V527.52M490.18,468.60V527.52M495.09,468.60V527.52M500.00,468.60V527.52M504.91,468.60V527.52M509.82,468.60V527.52M514.73,468.60V527.52M519.64,468.60V527.52M524.55,468.60V527.52M529.46,468.60V527.52M534.37,468.60V527.52M539.28,468.60V527.52M400.40,468.60H540.28M400.40,473.51H540.28M400.40,478.42H540.28M400.40,483.33H540.28M400.40,488.24H540.28M400.40,493.15H540.28M400.40,498.06H540.28M400.40,502.97H540.28M400.40,507.88H540.28M400.40,512.79H540.28M400.40,517.70H540.28M400.40,522.61H540.28" stroke="#2a2a2a" stroke-width="0.85" fill="none"/></g>
<path d="M400.40,468.60H416.53L465.63,517.70H475.45L524.55,468.60H540.28" stroke="#2a2a2a" stroke-width="0.85" fill="none"/>
<circle cx="416.53" cy="468.60" r="0.9" fill="#ff2020"/>
<circle cx="428.81" cy="480.88" r="0.9" fill="#ff2020"/>
<circle cx="441.08" cy="493.15" r="0.9" fill="#ff2020"/>
<circle cx="453.36" cy="505.43" r="0.9" fill="#ff2020"/>
<circle cx="465.63" cy="517.70" r="0.9" fill="#ff2020"/>
<circle cx="475.45" cy="517.70" r="3.00" fill="#000000"/>
<circle cx="487.73" cy="505.43" r="3.00" fill="#000000"/>
<circle cx="500.00" cy="493.15" r="3.00" fill="#000000"/>
<circle cx="512.27" cy="480.88" r="3.00" fill="#000000"/>
<circle cx="524.55" cy="468.60" r="3.00" fill="#000000"/>
<path d="M409.90,339.26L459.75,353.08L509.60,398.09L559.45,457.88L609.30,498.81L659.15,486.03" fill="none" stroke="#505050" stroke-width="1.3"/>
<path d="M409.90,335.09L459.75,346.21L509.60,388.36L559.45,447.71L609.30,500.28L659.15,498.98" fill="none" stroke="#e4504a" stroke-width="1.2" stroke-dasharray="6,5"/>
<path d="M409.90,330.74L459.75,341.17L509.60,378.54L559.45,435.02L609.30,492.38L659.15,514.10" fill="none" stroke="#3a7ae0" stroke-width="1.2" stroke-dasharray="1.6,5.6"/>
<path d="M409.90,328.57L459.75,339.00L509.60,372.98L559.45,426.33L609.30,481.08L659.15,519.66" fill="none" stroke="#34a067" stroke-width="1.2" stroke-dasharray="7,3,1.6,3"/>
<path d="M409.90,326.40L459.75,336.83L509.60,369.15L559.45,415.90L609.30,466.83L659.15,509.50" fill="none" stroke="#b48ae6" stroke-width="1.2" stroke-dasharray="5,3,1.6,3,1.6,3"/>
<rect x="407.30" y="336.66" width="5.20" height="5.20" fill="#444444"/>
<rect x="457.15" y="350.48" width="5.20" height="5.20" fill="#444444"/>
<rect x="507.00" y="395.49" width="5.20" height="5.20" fill="#444444"/>
<rect x="556.85" y="455.28" width="5.20" height="5.20" fill="#444444"/>
<rect x="606.70" y="496.21" width="5.20" height="5.20" fill="#444444"/>
<rect x="656.55" y="483.43" width="5.20" height="5.20" fill="#444444"/>
<circle cx="409.90" cy="335.09" r="3.20" fill="#e8383b"/>
<circle cx="459.75" cy="346.21" r="3.20" fill="#e8383b"/>
<circle cx="509.60" cy="388.36" r="3.20" fill="#e8383b"/>
<circle cx="559.45" cy="447.71" r="3.20" fill="#e8383b"/>
<circle cx="609.30" cy="500.28" r="3.20" fill="#e8383b"/>
<circle cx="659.15" cy="498.98" r="3.20" fill="#e8383b"/>
<path d="M409.90,327.14L413.50,333.34L406.30,333.34Z" fill="#1f62d8"/>
<path d="M459.75,337.57L463.35,343.77L456.15,343.77Z" fill="#1f62d8"/>
<path d="M509.60,374.94L513.20,381.14L506.00,381.14Z" fill="#1f62d8"/>
<path d="M559.45,431.42L563.05,437.62L555.85,437.62Z" fill="#1f62d8"/>
<path d="M609.30,488.78L612.90,494.98L605.70,494.98Z" fill="#1f62d8"/>
<path d="M659.15,510.50L662.75,516.70L655.55,516.70Z" fill="#1f62d8"/>
<path d="M409.90,332.17L413.50,325.97L406.30,325.97Z" fill="#2e9a5e"/>
<path d="M459.75,342.60L463.35,336.40L456.15,336.40Z" fill="#2e9a5e"/>
<path d="M509.60,376.58L513.20,370.38L506.00,370.38Z" fill="#2e9a5e"/>
<path d="M559.45,429.93L563.05,423.73L555.85,423.73Z" fill="#2e9a5e"/>
<path d="M609.30,484.68L612.90,478.48L605.70,478.48Z" fill="#2e9a5e"/>
<path d="M659.15,523.26L662.75,517.06L655.55,517.06Z" fill="#2e9a5e"/>
<path d="M409.90,322.60L413.70,326.40L409.90,330.20L406.10,326.40Z" fill="#a970e0"/>
<path d="M459.75,333.03L463.55,336.83L459.75,340.63L455.95,336.83Z" fill="#a970e0"/>
<path d="M509.60,365.35L513.40,369.15L509.60,372.95L505.80,369.15Z" fill="#a970e0"/>
<path d="M559.45,412.10L563.25,415.90L559.45,419.70L555.65,415.90Z" fill="#a970e0"/>
<path d="M609.30,463.03L613.10,466.83L609.30,470.63L605.50,466.83Z" fill="#a970e0"/>
<path d="M659.15,505.70L662.95,509.50L659.15,513.30L655.35,509.50Z" fill="#a970e0"/>
<rect x="631.60" y="316.50" width="48.80" height="78.70" fill="#fff" stroke="#bbb" stroke-width="1"/>
<path d="M633.40,325.70L662.20,325.70" fill="none" stroke="#505050" stroke-width="1.3"/>
<rect x="645.10" y="323.10" width="5.20" height="5.20" fill="#444444"/>
<text x="665.40" y="330.20" font-size="12.5" text-anchor="start" fill="#1e1e1e" stroke="#1e1e1e" stroke-width="0.2">R1</text>
<path d="M633.40,340.90L662.20,340.90" fill="none" stroke="#e4504a" stroke-width="1.2" stroke-dasharray="6,5"/>
<circle cx="647.70" cy="340.90" r="3.20" fill="#e8383b"/>
<text x="665.40" y="345.40" font-size="12.5" text-anchor="start" fill="#1e1e1e" stroke="#1e1e1e" stroke-width="0.2">R2</text>
<path d="M633.40,356.10L662.20,356.10" fill="none" stroke="#3a7ae0" stroke-width="1.2" stroke-dasharray="1.6,5.6"/>
<path d="M647.70,352.50L651.30,358.70L644.10,358.70Z" fill="#1f62d8"/>
<text x="665.40" y="360.60" font-size="12.5" text-anchor="start" fill="#1e1e1e" stroke="#1e1e1e" stroke-width="0.2">R3</text>
<path d="M633.40,371.30L662.20,371.30" fill="none" stroke="#34a067" stroke-width="1.2" stroke-dasharray="7,3,1.6,3"/>
<path d="M647.70,374.90L651.30,368.70L644.10,368.70Z" fill="#2e9a5e"/>
<text x="665.40" y="375.80" font-size="12.5" text-anchor="start" fill="#1e1e1e" stroke="#1e1e1e" stroke-width="0.2">R4</text>
<path d="M633.40,386.50L662.20,386.50" fill="none" stroke="#b48ae6" stroke-width="1.2" stroke-dasharray="5,3,1.6,3,1.6,3"/>
<path d="M647.70,382.70L651.50,386.50L647.70,390.30L643.90,386.50Z" fill="#a970e0"/>
<text x="665.40" y="391.00" font-size="12.5" text-anchor="start" fill="#1e1e1e" stroke="#1e1e1e" stroke-width="0.2">R5</text>
<text x="476.25" y="513.20" font-size="10.5" text-anchor="middle" fill="#111" stroke="#111" stroke-width="0.2">R1</text>
<text x="497.50" y="492.75" font-size="10.5" text-anchor="end" fill="#111" stroke="#111" stroke-width="0.2">R3</text>
<text x="519.55" y="470.40" font-size="10.5" text-anchor="end" fill="#111" stroke="#111" stroke-width="0.2">R5</text>
<text x="672.50" y="285.80" font-size="10.5" text-anchor="middle" fill="#1e1e1e" stroke="#1e1e1e" stroke-width="0.2">(A)</text>
<text x="669.40" y="584.60" font-size="10.5" text-anchor="middle" fill="#1e1e1e" stroke="#1e1e1e" stroke-width="0.2">(B)</text>
</svg>
</body></html>
